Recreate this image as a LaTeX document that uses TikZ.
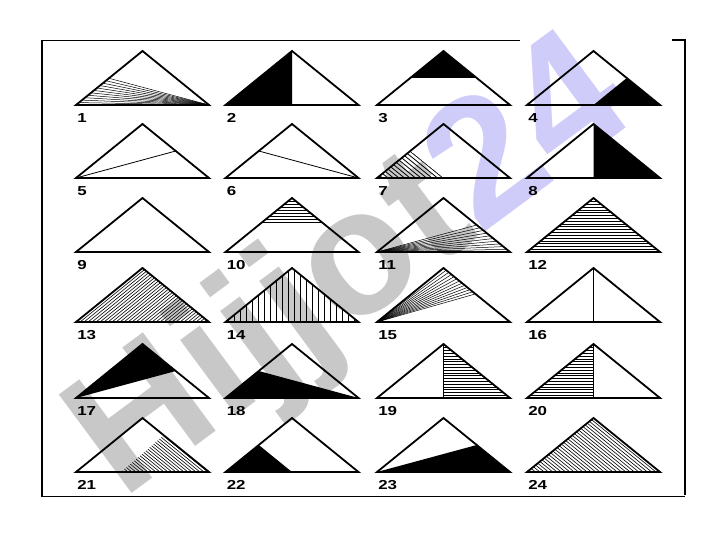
\documentclass[tikz,border=0pt]{standalone}
\usepackage{fontspec}
\setmainfont{Liberation Sans}
\usetikzlibrary{calc}

\definecolor{wmgray}{RGB}{200,200,200}
\definecolor{wmblue}{RGB}{208,204,250}

\begin{document}
\begin{tikzpicture}[x=1pt,y=-1pt,
  outline/.style={line width=1.8pt,line join=miter},
  hatch/.style={line width=0.6pt},
  thinline/.style={line width=0.8pt},
  number/.style={anchor=west,inner sep=0pt,xscale=1.3,
    font=\bfseries\fontsize{13}{13}\selectfont},
  wm/.style={rotate=36.5,inner sep=0pt,
    font=\bfseries\fontsize{178}{178}\selectfont}]

  \useasboundingbox (0,0) rectangle (720,540);

  % watermark
  \node[wm] (mark) at (354,272) {\textcolor{wmgray}{Hijjot}\textcolor{wmblue}{24}};

  % frame
  \draw[line width=2.5pt] (42,40) -- (42,497);
  \draw[line width=1pt] (42,41) -- (520,41);
  \draw[line width=1.8pt] (672,40) -- (685,40) -- (685,495);
  \draw[line width=0.8pt] (42,496) -- (685,496);

  % corner points of the 24 triangles
  \foreach \yb [count=\r from 0] in {105,178,252,322,398,472}
    \foreach \xl [count=\c] in {76,225.5,377,527} {
      \pgfmathtruncatemacro\k{4*\r+\c}
      \coordinate (L\k) at (\xl,\yb);
      \coordinate (R\k) at (\xl+133,\yb);
      \coordinate (T\k) at (\xl+66.5,\yb-54);
      \coordinate (M\k) at (\xl+66.5,\yb);
      \coordinate (P\k) at (\xl+33.25,\yb-27);
      \coordinate (Q\k) at (\xl+99.75,\yb-27);
      \node[number] (n\k) at (\xl+1,\yb+13) {\k};
    }

  % 1
  \foreach \t in {0,0.09,...,1}
    \draw[hatch,line width=0.5pt] ($(L1)!\t!(P1)$) -- (R1);
  % 2, 3, 4
  \fill (L2) -- (T2) -- (M2) -- cycle;
  \fill (T3) -- (P3) -- (Q3) -- cycle;
  \fill (M4) -- (Q4) -- (R4) -- cycle;
  % 5, 6
  \draw[thinline] (L5) -- (Q5);
  \draw[thinline] (R6) -- (P6);
  % 7
  \begin{scope}
    \clip (L7) -- (P7) -- (M7) -- cycle;
    \foreach \d in {0,5.5,...,72}
      \draw[hatch,line width=0.8pt] (L7) ++(\d,0) -- ++(-80,-65);
  \end{scope}
  % 8
  \fill (M8) -- (T8) -- (R8) -- cycle;
  % 10
  \begin{scope}
    \clip (T10) -- (P10) -- (Q10) -- cycle;
    \foreach \d in {27,30,...,54}
      \draw[hatch] (L10) ++(-5,-\d) -- ++(145,0);
  \end{scope}
  % 11
  \foreach \t in {0,0.1,...,1}
    \draw[hatch,line width=0.5pt] (L11) -- ($(Q11)!\t!(R11)$);
  % 12
  \begin{scope}
    \clip (L12) -- (T12) -- (R12) -- cycle;
    \foreach \d in {0,2.8,...,54}
      \draw[hatch] (L12) ++(-5,-\d) -- ++(145,0);
  \end{scope}
  % 13
  \begin{scope}
    \clip (L13) -- (T13) -- (R13) -- cycle;
    \foreach \d in {0,4,...,136}
      \draw[hatch] (L13) ++(\d,0) -- ++(80,-65);
  \end{scope}
  % 14
  \begin{scope}
    \clip (L14) -- (T14) -- (R14) -- cycle;
    \foreach \d in {3,9,...,133}
      \draw[hatch,line width=0.8pt] (L14) ++(\d,0) -- ++(0,-60);
  \end{scope}
  % 15
  \foreach \t in {0,0.08,...,1}
    \draw[hatch,line width=0.5pt] (L15) -- ($(T15)!\t!(Q15)$);
  % 16
  \draw[thinline,line width=1.2pt] (T16) -- (M16);
  % 17, 18
  \fill (L17) -- (T17) -- (Q17) -- cycle;
  \fill (L18) -- (P18) -- (R18) -- cycle;
  % 19, 20
  \begin{scope}
    \clip (M19) -- (T19) -- (R19) -- cycle;
    \foreach \d in {0,2.8,...,54}
      \draw[hatch] (L19) ++(-5,-\d) -- ++(145,0);
  \end{scope}
  \draw[line width=1.4pt] (T19) -- (M19);
  \begin{scope}
    \clip (L20) -- (T20) -- (M20) -- cycle;
    \foreach \d in {0,2.8,...,54}
      \draw[hatch] (L20) ++(-5,-\d) -- ++(145,0);
  \end{scope}
  \draw[line width=1.4pt] (T20) -- (M20);
  % 21
  \coordinate (S21) at ($(L21)!0.34!(R21)$);
  \coordinate (U21) at ($(R21)!0.68!(T21)$);
  \begin{scope}
    \clip (S21) -- (U21) -- (R21) -- cycle;
    \foreach \d in {40,44,...,140}
      \draw[hatch] (L21) ++(\d,0) -- ++(-80,-65);
  \end{scope}
  % 22, 23
  \fill (L22) -- (P22) -- (M22) -- cycle;
  \fill (L23) -- (Q23) -- (R23) -- cycle;
  % 24
  \begin{scope}
    \clip (L24) -- (T24) -- (R24) -- cycle;
    \foreach \d in {0,4.3,...,140}
      \draw[hatch] (L24) ++(\d,0) -- ++(-80,-65);
  \end{scope}

  % outlines
  \foreach \k in {1,...,24}
    \draw[outline] (L\k) -- (T\k) -- (R\k) -- cycle;

\end{tikzpicture}
\end{document}
